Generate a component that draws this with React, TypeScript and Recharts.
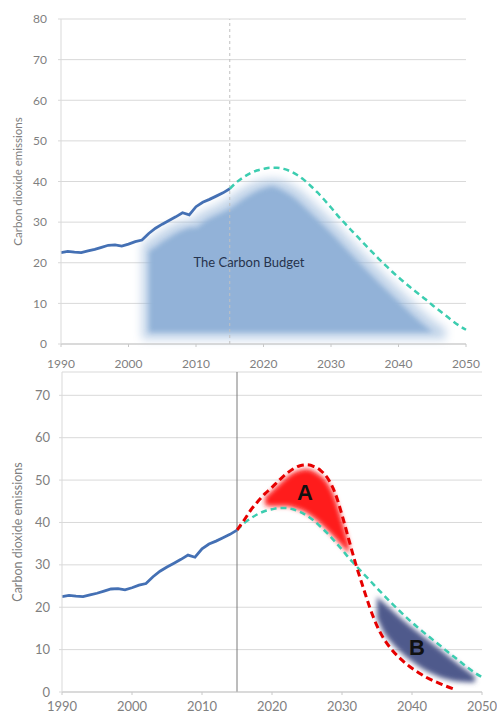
import React from 'react';
import {
  ComposedChart,
  Line,
  Area,
  XAxis,
  YAxis,
  CartesianGrid,
  ReferenceLine,
  ReferenceDot,
} from 'recharts';

// measured emissions, one value a year from 1990 to 2015
const HIST_START = 1990;
const history = [
  22.5, 22.8, 22.6, 22.5, 22.9, 23.3, 23.8, 24.3, 24.4, 24.1,
  24.6, 25.2, 25.6, 27.2, 28.5, 29.5, 30.4, 31.3, 32.3, 31.8,
  33.8, 34.9, 35.6, 36.4, 37.2, 38.2,
];

// both projections start in 2015
const PROJ_START = 2015;
// green dashed pathway, 2015-2050
const pathway = [
  38.2, 39.8, 41.0, 42.0, 42.7, 43.1, 43.4, 43.4, 43.1, 42.5,
  41.6, 40.4, 38.9, 37.3, 35.5, 33.6, 31.6, 29.8, 28.0, 26.3,
  24.5, 22.8, 21.1, 19.5, 17.9, 16.4, 15.0, 13.6, 12.3, 11.0,
  9.6, 8.3, 7.0, 5.7, 4.5, 3.5,
];
// red dashed pathway (late peak), 2015-2046
const delayed = [
  38.2, 40.5, 43.0, 45.0, 46.8, 48.3, 49.9, 51.4, 52.6, 53.4,
  53.6, 53.2, 52.2, 50.3, 47.0, 41.8, 35.8, 30.0, 24.8, 19.8,
  15.6, 12.5, 10.2, 8.4, 6.9, 5.6, 4.5, 3.5, 2.7, 2.0,
  1.3, 0.7,
];

// the carbon budget blob (top edge), 2002-2047, sitting on a flat floor
const BUDGET_START = 2002;
const BUDGET_FLOOR = 1.2;
const budgetTop = [
  24.6, 25.6, 26.9, 27.9, 28.9, 29.7, 30.3, 30.4, 31.6, 32.6,
  33.4, 34.2, 35.1, 36.2, 37.4, 38.4, 39.3, 40.0, 40.5, 40.7,
  40.6, 40.2, 39.4, 38.4, 37.1, 35.6, 34.0, 32.4, 30.8, 29.1,
  27.4, 25.6, 23.8, 22.1, 20.4, 18.7, 17.0, 15.4, 13.8, 12.2,
  10.6, 9.0, 7.5, 6.1, 4.8, 3.8,
];

// overshoot A, 2019-2031
const A_START = 2019;
const areaALow = [44.0, 43.8, 43.8, 43.8, 43.5, 43.0, 42.2, 41.0, 39.6, 38.0, 36.3, 34.5, 32.6];
const areaAHigh = [46.0, 47.5, 49.0, 50.5, 51.7, 52.4, 52.6, 52.1, 51.0, 49.2, 45.8, 40.5, 34.8];

// shortfall B, 2035-2049
const B_START = 2035;
const areaBLow = [17.5, 14.0, 11.8, 10.0, 8.5, 7.2, 6.0, 5.0, 4.2, 3.5, 3.0, 2.6, 2.4, 2.3, 2.3];
const areaBHigh = [22.5, 21.0, 19.5, 18.0, 16.6, 15.2, 13.9, 12.6, 11.3, 10.0, 8.7, 7.4, 6.1, 4.9, 3.6];

const YEAR_TICKS = [1990, 2000, 2010, 2020, 2030, 2040, 2050];
const TOP_Y_TICKS = [0, 10, 20, 30, 40, 50, 60, 70, 80];
const BOTTOM_Y_TICKS = [0, 10, 20, 30, 40, 50, 60, 70];

const FONT = 'Lato, "Open Sans", sans-serif';
const GRID = '#d9d9d9';
const TICK = '#7f7f7f';
const BLUE = '#4470b4';
const TEAL = '#3ccdb0';
const RED = '#e60000';

const pick = (arr: number[], start: number, year: number) => {
  const i = year - start;
  return i >= 0 && i < arr.length ? arr[i] : null;
};

const rows: any[] = [];
for (let year = 1990; year <= 2050; year++) {
  const aLo = pick(areaALow, A_START, year);
  const aHi = pick(areaAHigh, A_START, year);
  const bLo = pick(areaBLow, B_START, year);
  const bHi = pick(areaBHigh, B_START, year);
  rows.push({
    year,
    history: pick(history, HIST_START, year),
    pathway: pick(pathway, PROJ_START, year),
    delayed: pick(delayed, PROJ_START, year),
    budget: pick(budgetTop, BUDGET_START, year),
    areaA: aLo != null ? [aLo, aHi] : null,
    areaB: bLo != null ? [bLo, bHi] : null,
  });
}

const AxisTitle = ({ viewBox, fontSize, fallback }: any) => {
  const cy = viewBox && viewBox.height ? viewBox.y + viewBox.height / 2 : fallback;
  return (
    <text
      x={17}
      y={cy}
      transform={`rotate(-90 17 ${cy})`}
      textAnchor="middle"
      dominantBaseline="central"
      fill={TICK}
      fontSize={fontSize}
      fontFamily={FONT}
    >
      Carbon dioxide emissions
    </text>
  );
};

const blurCss = `
  .blur-budget path { filter: url(#budgetBlur); }
  .blur-a path { filter: url(#aBlur); }
  .blur-b path { filter: url(#bBlur); }
`;

export default function App() {
  return (
    <div style={{ position: 'absolute', left: 0, top: 0, width: 497, height: 715, background: '#fff', fontFamily: FONT }}>
      <style>{blurCss}</style>

      {/* top: the carbon budget */}
      <div style={{ position: 'absolute', left: 0, top: 0 }}>
        <ComposedChart width={497} height={382} data={rows} margin={{ top: 19, right: 31, left: 0, bottom: 0 }}>
          <defs>
            {/* light halo plus an inset, softly edged core */}
            <filter id="budgetBlur" x="-30%" y="-30%" width="160%" height="160%">
              <feGaussianBlur in="SourceGraphic" stdDeviation="5" result="wide" />
              <feComponentTransfer in="wide" result="halo">
                <feFuncA type="linear" slope="0.55" />
              </feComponentTransfer>
              <feMorphology in="SourceGraphic" operator="erode" radius="7" result="shrunk" />
              <feGaussianBlur in="shrunk" stdDeviation="2.5" result="core" />
              <feMerge>
                <feMergeNode in="halo" />
                <feMergeNode in="core" />
              </feMerge>
            </filter>
          </defs>
          <CartesianGrid vertical={false} stroke={GRID} />
          <XAxis
            dataKey="year"
            type="number"
            domain={[1990, 2050]}
            ticks={YEAR_TICKS}
            height={38}
            tickSize={3}
            tickMargin={12}
            axisLine={{ stroke: '#c8c8c8' }}
            tickLine={{ stroke: '#c8c8c8' }}
            tick={{ fill: TICK, fontSize: 12, fontFamily: FONT }}
          />
          <YAxis
            type="number"
            domain={[0, 80]}
            ticks={TOP_Y_TICKS}
            width={61}
            tickSize={3}
            tickMargin={11}
            axisLine={{ stroke: GRID }}
            tickLine={{ stroke: GRID }}
            tick={{ fill: TICK, fontSize: 12, fontFamily: FONT }}
            label={<AxisTitle fontSize={11.5} fallback={181} />}
          />
          <Area
            className="blur-budget"
            dataKey="budget"
            baseValue={BUDGET_FLOOR}
            type="monotone"
            stroke="none"
            fill="#92b2d8"
            fillOpacity={1}
            isAnimationActive={false}
          />
          <ReferenceLine x={2015} stroke="#c0c0c0" strokeDasharray="3 3" />
          <Line dataKey="pathway" type="monotone" stroke={TEAL} strokeWidth={2.5} strokeDasharray="6 4" dot={false} isAnimationActive={false} />
          <Line dataKey="history" type="linear" stroke={BLUE} strokeWidth={2.8} dot={false} isAnimationActive={false} />
          <ReferenceDot
            x={2017.85}
            y={20.2}
            r={0}
            stroke="none"
            label={{ value: 'The Carbon Budget', position: 'center', fill: '#26334d', fontSize: 13, fontFamily: FONT }}
          />
        </ComposedChart>
      </div>

      {/* bottom: overshoot and shortfall */}
      <div style={{ position: 'absolute', left: 0, top: 355 }}>
        <ComposedChart width={497} height={360} data={rows} margin={{ top: 17, right: 15, left: 0, bottom: 0 }}>
          <defs>
            <filter id="aBlur" x="-20%" y="-20%" width="140%" height="140%">
              <feGaussianBlur stdDeviation="2.5" />
            </filter>
            <filter id="bBlur" x="-20%" y="-20%" width="140%" height="140%">
              <feGaussianBlur stdDeviation="2.5" />
            </filter>
          </defs>
          <CartesianGrid vertical={false} stroke={GRID} />
          <XAxis
            dataKey="year"
            type="number"
            domain={[1990, 2050]}
            ticks={YEAR_TICKS}
            height={23}
            tickSize={3}
            tickMargin={7}
            axisLine={{ stroke: '#c8c8c8' }}
            tickLine={{ stroke: '#c8c8c8' }}
            tick={{ fill: TICK, fontSize: 13, fontFamily: FONT }}
          />
          <YAxis
            type="number"
            domain={[0, 75.5]}
            ticks={BOTTOM_Y_TICKS}
            width={62}
            tickSize={3}
            tickMargin={9}
            axisLine={{ stroke: GRID }}
            tickLine={{ stroke: GRID }}
            tick={{ fill: TICK, fontSize: 13, fontFamily: FONT }}
            label={<AxisTitle fontSize={12.5} fallback={177} />}
          />
          <Area className="blur-a" dataKey="areaA" type="monotone" stroke="none" fill="#ff1f1f" fillOpacity={1} isAnimationActive={false} />
          <Area className="blur-b" dataKey="areaB" type="monotone" stroke="none" fill="#4f5a8c" fillOpacity={1} isAnimationActive={false} />
          <ReferenceLine x={2015} stroke="#7a7a7a" strokeWidth={1} />
          <Line dataKey="pathway" type="monotone" stroke={TEAL} strokeWidth={2.5} strokeDasharray="6 4" dot={false} isAnimationActive={false} />
          <Line dataKey="delayed" type="monotone" stroke={RED} strokeWidth={3} strokeDasharray="7 4" dot={false} isAnimationActive={false} />
          <Line dataKey="history" type="linear" stroke={BLUE} strokeWidth={2.8} dot={false} isAnimationActive={false} />
          <ReferenceDot
            x={2024.7}
            y={47.2}
            r={0}
            stroke="none"
            label={{ value: 'A', position: 'center', fill: '#111', fontSize: 22, fontWeight: 'bold', fontFamily: 'Liberation Sans, Arial, sans-serif' }}
          />
          <ReferenceDot
            x={2040.7}
            y={10.6}
            r={0}
            stroke="none"
            label={{ value: 'B', position: 'center', fill: '#111', fontSize: 22, fontWeight: 'bold', fontFamily: 'Liberation Sans, Arial, sans-serif' }}
          />
        </ComposedChart>
      </div>
    </div>
  );
}
